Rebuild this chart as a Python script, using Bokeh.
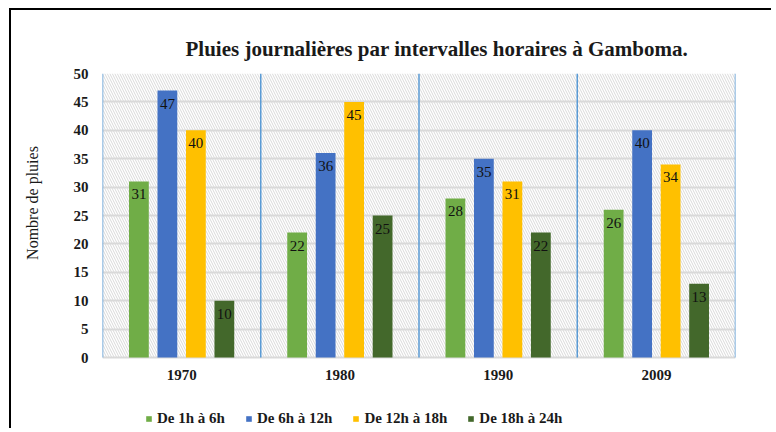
from bokeh.plotting import figure
from bokeh.models import FixedTicker, Legend, LegendItem, ColumnDataSource, Range1d, LabelSet
from bokeh.embed import file_html
from bokeh.resources import INLINE
from bokeh.core.properties import value

years = ["1970", "1980", "1990", "2009"]
series = ["De 1h à 6h", "De 6h à 12h", "De 12h à 18h", "De 18h à 24h"]
v_1h_6h = [31, 22, 28, 26]
v_6h_12h = [47, 36, 35, 40]
v_12h_18h = [40, 45, 31, 34]
v_18h_24h = [10, 25, 22, 13]
y_ticks = [0, 5, 10, 15, 20, 25, 30, 35, 40, 45, 50]

colors = ["#70ad47", "#4472c4", "#ffc000", "#43682b"]
offsets = [-0.27, -0.09, 0.09, 0.27]
all_values = [v_1h_6h, v_6h_12h, v_12h_18h, v_18h_24h]

SERIF = "Liberation Serif"
Y_MAX = 50
Y_MIN = -12.5      # room below the axis for year labels and legend
YEAR_LABEL_Y = -3.0

p = figure(frame_width=633, frame_height=355,
           min_border_left=91, min_border_right=36, min_border_top=63, min_border_bottom=0,
           x_range=Range1d(0, len(years)), y_range=Range1d(Y_MIN, Y_MAX),
           output_backend="svg", toolbar_location=None,
           title="Pluies journalières par intervalles horaires à Gamboma.")
p.styles = {"margin-left": "9px", "margin-top": "8px",
            "border-left": "2px solid black", "border-top": "2px solid black"}
p.outline_line_color = None

p.title.text_font = SERIF
p.title.text_font_size = "21px"
p.title.text_font_style = "bold"
p.title.text_color = "#1a1a1a"
p.title.align = "left"
p.title.offset = 83
p.title.standoff = 26

# hatched plot area background (0..50)
p.quad(left=[0], right=[len(years)], bottom=[0], top=[Y_MAX], fill_color=None, fill_alpha=0,
       line_color=None, hatch_pattern="\\", hatch_color="#cfcfcf",
       hatch_scale=5, hatch_weight=0.8, level="underlay")

# vertical blue separators between year groups
bounds = list(range(len(years) + 1))
p.segment(x0=bounds, y0=[0] * len(bounds), x1=bounds, y1=[Y_MAX] * len(bounds),
          line_color="#5b9bd5", line_width=1.5)

renderers = []
for vals, col, off in zip(all_values, colors, offsets):
    xs = [i + 0.5 + off for i in range(len(years))]
    src = ColumnDataSource(dict(x=xs, top=vals, lab=[str(v) for v in vals]))
    r = p.vbar(x="x", top="top", bottom=0, width=0.125, source=src,
               fill_color=col, line_color=None)
    renderers.append(r)
    p.add_layout(LabelSet(x="x", y="top", text="lab", source=src,
                          text_align="center", text_baseline="top",
                          y_offset=-8, text_font=value(SERIF),
                          text_font_size="15px", text_color="#111111"))

# year (category) labels under the plot area
p.text(x=[i + 0.5 for i in range(len(years))], y=[YEAR_LABEL_Y] * len(years), text=years,
       text_align="center", text_baseline="middle", text_font=value(SERIF),
       text_font_style="bold", text_font_size="15px", text_color="#1a1a1a")

p.xaxis.visible = False
p.xgrid.visible = False

p.yaxis.ticker = FixedTicker(ticks=y_ticks)
p.yaxis.major_tick_line_color = None
p.yaxis.minor_tick_line_color = None
p.yaxis.major_label_text_font = SERIF
p.yaxis.major_label_text_font_style = "bold"
p.yaxis.major_label_text_font_size = "15px"
p.yaxis.major_label_text_color = "#1a1a1a"
p.yaxis.axis_line_color = None
p.yaxis.major_label_standoff = 8
p.yaxis.axis_label = "\u00a0" * 24 + "Nombre de pluies"
p.yaxis.axis_label_text_font = SERIF
p.yaxis.axis_label_text_font_style = "normal"
p.yaxis.axis_label_text_font_size = "16px"
p.yaxis.axis_label_text_color = "#1a1a1a"
p.yaxis.axis_label_standoff = 30

p.ygrid.ticker = FixedTicker(ticks=y_ticks)
p.ygrid.grid_line_color = "#d9d9d9"
p.ygrid.grid_line_width = 2

legend = Legend(items=[LegendItem(label=s, renderers=[r]) for s, r in zip(series, renderers)],
                orientation="horizontal", location=(43, 1),
                glyph_width=7, glyph_height=7, label_standoff=5, spacing=20,
                label_text_font=SERIF, label_text_font_style="bold",
                label_text_font_size="15px", label_text_color="#1a1a1a",
                border_line_color=None, background_fill_alpha=0,
                padding=0, margin=0)
p.add_layout(legend, "center")

open("out.html", "w").write(file_html(p, INLINE))
